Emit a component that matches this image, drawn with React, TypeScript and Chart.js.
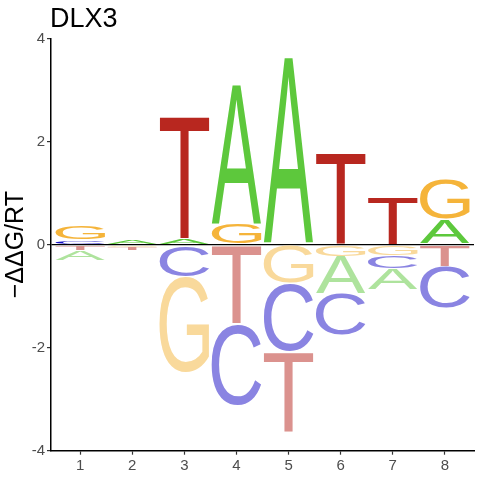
import { useEffect, useRef } from "react";
import { Chart, registerables } from "chart.js";

Chart.register(...registerables);

// ---- data ----
const positions = [1, 2, 3, 4, 5, 6, 7, 8];
const bases = ["A", "C", "G", "T"];
const scoreA = [-0.2, 0.11, 0.12, 2.72, 3.64, -0.73, -0.42, 0.49];
const scoreC = [0.09, 0.0, -0.62, -1.59, -1.33, -0.8, -0.24, -0.81];
const scoreG = [0.27, -0.05, -1.87, 0.4, -0.74, -0.23, -0.22, 0.79];
const scoreT = [-0.11, -0.06, 2.38, -1.53, -1.55, 1.79, 0.94, -0.43];
const yTicks = [-4, -2, 0, 2, 4];
const titleText = "DLX3";
const yTitle = "\u2212\u0394\u0394G/RT";

const posColors: Record<string, string> = {
  A: "#5DC83C",
  C: "#1510C5",
  G: "#F5B43A",
  T: "#B8271F",
};
const negColors: Record<string, string> = {
  A: "#AEE39D",
  C: "#8A84E2",
  G: "#F9D99B",
  T: "#DB928E",
};

function buildRanges() {
  const scores: Record<string, number[]> = { A: scoreA, C: scoreC, G: scoreG, T: scoreT };
  const ranges: Record<string, ({ x: number; y: [number, number] } | null)[]> = {
    A: [],
    C: [],
    G: [],
    T: [],
  };
  positions.forEach((p, i) => {
    const entries = bases.map((b) => ({ b, v: scores[b][i] }));
    bases.forEach((b) => (ranges[b][i] = null));
    let up = 0;
    let down = 0;
    entries
      .filter((e) => e.v > 0)
      .sort((a, b) => a.v - b.v)
      .forEach((e) => {
        ranges[e.b][i] = { x: p, y: [up, up + e.v] };
        up += e.v;
      });
    entries
      .filter((e) => e.v < 0)
      .sort((a, b) => b.v - a.v)
      .forEach((e) => {
        ranges[e.b][i] = { x: p, y: [down, down + e.v] };
        down += e.v;
      });
  });
  return ranges;
}

const LETTER_FONT = '"Liberation Sans", Arial, sans-serif';

const letterPlugin = {
  id: "logoLetters",
  afterDatasetsDraw(chart: any) {
    const ctx = chart.ctx as CanvasRenderingContext2D;
    chart.data.datasets.forEach((ds: any, di: number) => {
      const meta = chart.getDatasetMeta(di);
      const letter = ds.label as string;
      meta.data.forEach((el: any, j: number) => {
        const raw = ds.data[j];
        if (!raw) return;
        const { x, y, base, width } = el.getProps(["x", "y", "base", "width"], true);
        const top = Math.min(y, base) + 0.5;
        const bottom = Math.max(y, base) - 0.5;
        const h = bottom - top;
        if (h <= 0.2) return;
        const neg = raw.y[1] < raw.y[0];
        ctx.save();
        ctx.font = `200px ${LETTER_FONT}`;
        ctx.textAlign = "left";
        ctx.textBaseline = "alphabetic";
        const m = ctx.measureText(letter);
        const gw = m.actualBoundingBoxLeft + m.actualBoundingBoxRight;
        const gh = m.actualBoundingBoxAscent + m.actualBoundingBoxDescent;
        ctx.translate(x - width / 2, top);
        ctx.scale(width / gw, h / gh);
        ctx.fillStyle = neg ? negColors[letter] : posColors[letter];
        ctx.fillText(letter, m.actualBoundingBoxLeft, m.actualBoundingBoxAscent);
        ctx.restore();
      });
    });
  },
  afterDraw(chart: any) {
    const ctx = chart.ctx as CanvasRenderingContext2D;
    ctx.save();
    ctx.font = `27px ${LETTER_FONT}`;
    ctx.fillStyle = "#000";
    ctx.textAlign = "left";
    ctx.textBaseline = "alphabetic";
    ctx.fillText(titleText, chart.chartArea.left - 1, 27);
    ctx.restore();
  },
};

export default function App() {
  const ref = useRef<HTMLCanvasElement | null>(null);
  useEffect(() => {
    document.body.style.margin = "0";
    const ranges = buildRanges();
    const chart = new Chart(ref.current as HTMLCanvasElement, {
      type: "bar",
      data: {
        datasets: bases.map((b) => ({
          label: b,
          data: ranges[b].filter((r) => r !== null) as any,
          backgroundColor: "rgba(0,0,0,0)",
          borderWidth: 0,
          grouped: false,
          barPercentage: 0.95,
          categoryPercentage: 1,
        })),
      },
      options: {
        animation: false,
        responsive: false,
        devicePixelRatio: 1,
        layout: { padding: { top: 38.7, right: 6, left: 0, bottom: 0 } },
        plugins: {
          legend: { display: false },
          tooltip: { enabled: false },
          title: { display: false },
        },
        scales: {
          x: {
            type: "linear",
            offset: false,
            min: 0.44,
            max: 8.56,
            afterBuildTicks: (s: any) => {
              s.ticks = positions.map((v) => ({ value: v }));
            },
            afterFit: (s: any) => {
              s.height = 29.3;
            },
            ticks: {
              font: { family: LETTER_FONT, size: 15 },
              color: "#4D4D4D",
              padding: 2.5,
              maxRotation: 0,
              callback: (v: any) => String(v),
            },
            grid: {
              offset: false,
              drawOnChartArea: false,
              drawTicks: true,
              tickLength: 4,
              tickColor: "#333333",
              tickWidth: 1.2,
            },
            border: { display: true, color: "#000", width: 1.5 },
          },
          y: {
            type: "linear",
            min: -4,
            max: 4,
            afterBuildTicks: (s: any) => {
              s.ticks = yTicks.map((v) => ({ value: v }));
            },
            afterFit: (s: any) => {
              s.width = 51;
            },
            ticks: {
              font: { family: LETTER_FONT, size: 15 },
              color: "#4D4D4D",
              padding: 2,
              callback: (v: any) => String(v),
            },
            grid: {
              drawTicks: true,
              tickLength: 4,
              tickColor: "#333333",
              tickWidth: 1.2,
              color: (c: any) => (c.tick && c.tick.value === 0 ? "#000" : "rgba(0,0,0,0)"),
              lineWidth: 1.2,
            },
            border: { display: true, color: "#000", width: 1.5 },
            title: {
              display: true,
              text: yTitle,
              color: "#000",
              font: { family: LETTER_FONT, size: 25 },
              padding: { top: 1, bottom: 0 },
            },
          },
        },
      },
      plugins: [letterPlugin],
    } as any);
    return () => chart.destroy();
  }, []);
  return (
    <div style={{ width: 480, height: 480 }}>
      <canvas ref={ref} width={480} height={480} style={{ display: "block" }} />
    </div>
  );
}
